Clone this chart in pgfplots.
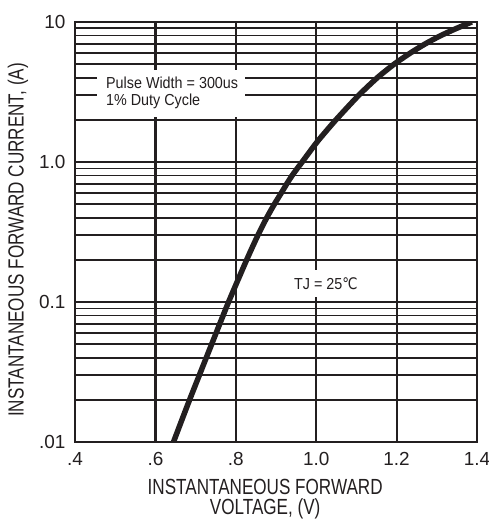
\documentclass[border=0pt]{standalone}
\usepackage{pgfplots}
\pgfplotsset{compat=1.18}
\usepackage{fontspec}
\setmainfont{Liberation Sans}
\newfontfamily\lblfont{Liberation Sans}[FakeStretch=0.78]
\newfontfamily\boxfont{Liberation Sans}[FakeStretch=0.9]
\newfontfamily\symfont{DejaVu Sans}[FakeStretch=0.85]
\definecolor{ink}{HTML}{231F20}
\begin{document}
\begin{tikzpicture}[x=1bp,y=1bp]
\useasboundingbox (-75,-79) rectangle (414,442);
\begin{axis}[
  at={(0,0)}, anchor=south west,
  scale only axis, width=402bp, height=420bp,
  xmin=0.4, xmax=1.4, ymin=0.01, ymax=10, ymode=log,
  xtick={0.4,0.6,0.8,1.0,1.2,1.4},
  xticklabels={.4,.6,.8,1.0,1.2,1.4},
  ytick={0.01,0.1,1,10}, yticklabels={.01,0.1,1.0,10},
  minor ytick={0.02,0.03,0.04,0.05,0.06,0.07,0.08,0.09,0.2,0.3,0.4,0.5,0.6,0.7,0.8,0.9,2,3,4,5,6,7,8,9},
  grid=both,
  grid style={draw=ink, line width=2bp},
  every major grid/.style={draw=ink, line width=2.2bp},
  every minor grid/.style={draw=ink, line width=1.8bp},
  axis line style={ink, line width=2bp},
  major tick length=0pt, minor tick length=0pt,
  ticklabel style={font=\fontsize{19}{19}\selectfont, text=ink},
  xticklabel style={yshift=-7bp},
  yticklabel style={xshift=-6bp},
  xlabel={INSTANTANEOUS FORWARD\\VOLTAGE, (V)},
  xlabel style={at={(axis description cs:0.473,-0.137)}, anchor=center, align=center, font=\lblfont\fontsize{22}{20}\selectfont, text=ink},
  ylabel={INSTANTANEOUS FORWARD CURRENT, (A)},
  ylabel style={at={(axis description cs:-0.142,0.481)}, anchor=center, font=\lblfont\fontsize{22}{20}\selectfont, text=ink},
]
\fill[white] (axis cs:0.455,2.1) rectangle (axis cs:0.823,4.54);
\node[anchor=west, text=ink, inner sep=0pt, font=\boxfont\fontsize{16}{16}\selectfont] at (axis cs:0.477,3.70) {Pulse Width = 300us};
\node[anchor=west, text=ink, inner sep=0pt, font=\boxfont\fontsize{16}{16}\selectfont] at (axis cs:0.477,2.73) {1\% Duty Cycle};
\fill[white] (axis cs:0.935,0.1086) rectangle (axis cs:1.121,0.169);
\node[text=ink, inner sep=0pt, font=\boxfont\fontsize{16}{16}\selectfont] at (axis cs:1.024,0.1345) {TJ = 25{\symfont ℃}};
\addplot[ink, line width=5.5bp, smooth, tension=0.4] table {
x y
0.645 0.010
0.685 0.02
0.740 0.05
0.782 0.10
0.827 0.20
0.855 0.30
0.877 0.40
0.896 0.50
0.913 0.60
0.927 0.70
0.940 0.80
0.953 0.90
0.965 1.00
1.003 1.40
1.049 2.0
1.106 3.0
1.152 4.0
1.194 5.0
1.234 6.0
1.272 7.0
1.310 8.0
1.349 9.0
1.387 10.0
};
\end{axis}
\end{tikzpicture}
\end{document}
